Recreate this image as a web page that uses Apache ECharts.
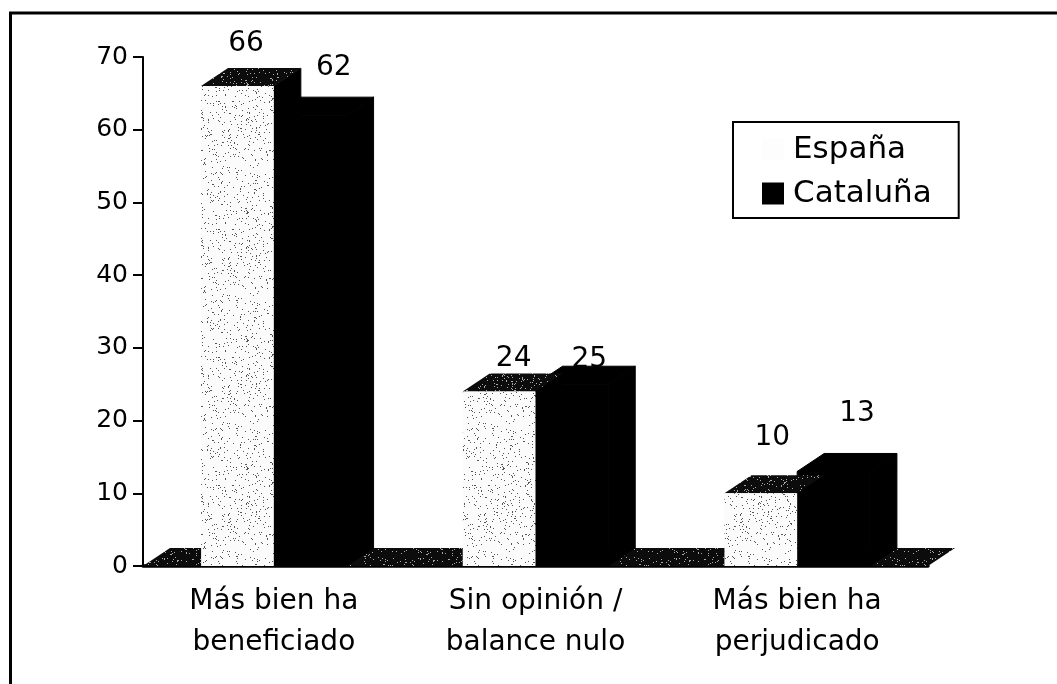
<!DOCTYPE html>
<html>
<head>
<meta charset="utf-8">
<script src="https://cdn.jsdelivr.net/npm/echarts@6/dist/echarts.min.js"></script>
<style>
html, body { margin: 0; padding: 0; background: #fff; }
#chart { width: 1057px; height: 684px; }
</style>
</head>
<body>
<div id="chart"></div>
<script>
const categories = ['Más bien ha\nbeneficiado', 'Sin opinión /\nbalance nulo', 'Más bien ha\nperjudicado'];
const espana = [66, 24, 10];
const cataluna = [62, 25, 13];

// how far the printed numbers sit from the bar tops
const labelShift = {
  España: [[-5, -24], [1, -15], [-2, -38]],
  Cataluña: [[10, -29], [4, -6], [10, -40]]
};

const DEPTH_X = 27;
const DEPTH_Y = 18;
const FONT = '"DejaVu Sans", Verdana, sans-serif';

// speckled print texture, made once from a small hash so it stays the same between runs
function speckle(bg, dot, density) {
  const c = document.createElement('canvas');
  c.width = 128;
  c.height = 128;
  const ctx = c.getContext('2d');
  ctx.fillStyle = bg;
  ctx.fillRect(0, 0, 128, 128);
  ctx.fillStyle = dot;
  for (let y = 0; y < 128; y++) {
    for (let x = 0; x < 128; x++) {
      const h = Math.sin(x * 12.9898 + y * 78.233) * 43758.5453;
      if (h - Math.floor(h) < density) ctx.fillRect(x, y, 1, 1);
    }
  }
  return c;
}
const lightFill = { image: speckle('#fbfbfb', '#555', 0.05), repeat: 'repeat' };
const darkFill = { image: speckle('#0c0c0c', '#aaa', 0.06), repeat: 'repeat' };

function barRenderer(name, offset, front, side, top, edge) {
  return function (params, api) {
    const i = params.dataIndex;
    const base = api.coord([api.value(0), 0]);
    const peak = api.coord([api.value(0), api.value(1)]);
    const w = api.size([1, 0])[0] * 0.278;
    const x0 = base[0] + offset * w;
    const x1 = x0 + w;
    const y0 = base[1];
    const y1 = peak[1];
    const shift = labelShift[name][i];
    return {
      type: 'group',
      children: [
        { type: 'polygon', shape: { points: [[x1, y0], [x1 + DEPTH_X, y0 - DEPTH_Y], [x1 + DEPTH_X, y1 - DEPTH_Y], [x1, y1]] }, style: { fill: side, stroke: '#000', lineWidth: 1 } },
        { type: 'polygon', shape: { points: [[x0, y1], [x0 + DEPTH_X, y1 - DEPTH_Y], [x1 + DEPTH_X, y1 - DEPTH_Y], [x1, y1]] }, style: { fill: top, stroke: edge, lineWidth: 1 } },
        { type: 'rect', shape: { x: x0, y: y1, width: w, height: y0 - y1 }, style: { fill: front, stroke: edge, lineWidth: 1 } },
        {
          type: 'text',
          x: (x0 + x1 + DEPTH_X) / 2 + shift[0],
          y: y1 - DEPTH_Y + shift[1],
          style: { text: String(api.value(1)), fill: '#000', font: '28px ' + FONT, align: 'center', verticalAlign: 'middle' }
        }
      ]
    };
  };
}

// the floor plate behind the bars, spanning the whole category axis
function floorRenderer(params, api) {
  const left = api.coord([0, 0]);
  const w = api.size([1, 0])[0];
  const x0 = left[0] - w / 2;
  const x1 = x0 + w * categories.length;
  const y = left[1];
  return {
    type: 'polygon',
    shape: { points: [[x0, y], [x0 + DEPTH_X, y - DEPTH_Y], [x1 + DEPTH_X, y - DEPTH_Y], [x1, y]] },
    style: { fill: darkFill }
  };
}

const chart = echarts.init(document.getElementById('chart'), null, { renderer: 'canvas' });
chart.setOption({
  animation: false,
  backgroundColor: '#fff',
  graphic: [{
    type: 'polyline',
    z: -1,
    shape: { points: [[10.5, 690], [10.5, 13], [1060, 13]] },
    style: { fill: 'none', stroke: '#000', lineWidth: 3 }
  }],
  grid: { left: 143, right: 129, top: 57, bottom: 118 },
  legend: {
    orient: 'vertical',
    left: 733,
    top: 122,
    padding: [12, 27, 9, 29],
    itemGap: 13,
    itemWidth: 22,
    itemHeight: 22,
    borderColor: '#000',
    borderWidth: 2,
    backgroundColor: '#fff',
    textStyle: { fontFamily: FONT, fontSize: 31, color: '#000', padding: [0, 0, 0, 4] },
    data: [
      { name: 'España', icon: 'rect', itemStyle: { color: '#fdfdfd' } },
      { name: 'Cataluña', icon: 'rect', itemStyle: { color: '#000' } }
    ]
  },
  xAxis: {
    type: 'category',
    data: categories,
    axisLine: { lineStyle: { color: '#000', width: 3.5 } },
    axisTick: { length: 12, lineStyle: { color: '#000', width: 2 } },
    axisLabel: { fontFamily: FONT, fontSize: 28, color: '#000', lineHeight: 41, margin: 15 }
  },
  yAxis: {
    type: 'value',
    min: 0,
    max: 70,
    interval: 10,
    axisLine: { show: true, lineStyle: { color: '#000', width: 2 } },
    axisTick: { show: true, length: 10, lineStyle: { color: '#000', width: 2 } },
    splitLine: { show: false },
    axisLabel: { fontFamily: FONT, fontSize: 25, color: '#000', margin: 15 }
  },
  series: [
    {
      type: 'custom',
      silent: true,
      z: 1,
      renderItem: floorRenderer,
      data: [[0, 0]],
      encode: { x: 0, y: 1 }
    },
    {
      name: 'España',
      type: 'custom',
      z: 3,
      renderItem: barRenderer('España', -1, lightFill, '#000', darkFill, null),
      itemStyle: { color: '#fdfdfd' },
      data: espana.map((v, i) => [i, v]),
      encode: { x: 0, y: 1 }
    },
    {
      name: 'Cataluña',
      type: 'custom',
      z: 2,
      renderItem: barRenderer('Cataluña', 0, '#000', '#000', '#000', '#000'),
      itemStyle: { color: '#000' },
      data: cataluna.map((v, i) => [i, v]),
      encode: { x: 0, y: 1 }
    }
  ]
});
</script>
</body>
</html>
